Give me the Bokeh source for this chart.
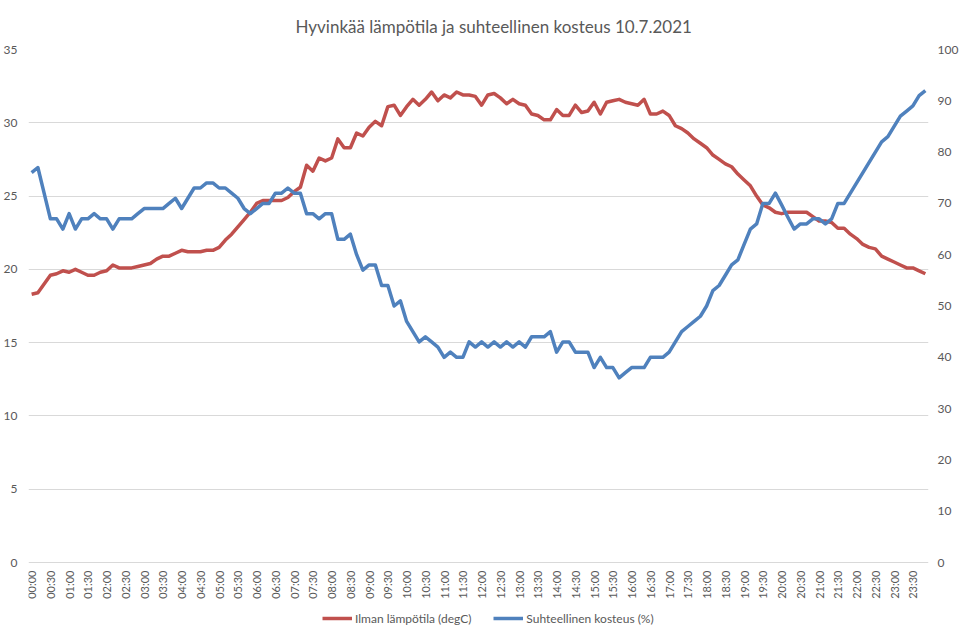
from math import pi

from bokeh.core.properties import value
from bokeh.embed import file_html
from bokeh.models import FixedTicker, Legend, LegendItem, LinearAxis, Range1d
from bokeh.plotting import figure
from bokeh.resources import INLINE

# 10 minute samples, 00:00 ... 23:50
times = [f"{h:02d}:{m:02d}" for h in range(24) for m in range(0, 60, 10)]
tick_labels = [t for t in times if t.endswith(":00") or t.endswith(":30")]

temperature = [
    18.3, 18.4, 19.0, 19.6, 19.7, 19.9, 19.8, 20.0, 19.8, 19.6, 19.6, 19.8,
    19.9, 20.3, 20.1, 20.1, 20.1, 20.2, 20.3, 20.4, 20.7, 20.9, 20.9, 21.1,
    21.3, 21.2, 21.2, 21.2, 21.3, 21.3, 21.5, 22.0, 22.4, 22.9, 23.4, 23.9,
    24.5, 24.7, 24.7, 24.7, 24.7, 24.9, 25.3, 25.6, 27.1, 26.7, 27.6, 27.4,
    27.6, 28.9, 28.3, 28.3, 29.3, 29.1, 29.7, 30.1, 29.8, 31.1, 31.2, 30.5,
    31.1, 31.6, 31.2, 31.6, 32.1, 31.5, 31.9, 31.7, 32.1, 31.9, 31.9, 31.8,
    31.2, 31.9, 32.0, 31.7, 31.3, 31.6, 31.3, 31.2, 30.6, 30.5, 30.2, 30.2,
    30.9, 30.5, 30.5, 31.2, 30.7, 30.8, 31.4, 30.6, 31.4, 31.5, 31.6, 31.4,
    31.3, 31.2, 31.6, 30.6, 30.6, 30.8, 30.5, 29.8, 29.6, 29.3, 28.9, 28.6,
    28.3, 27.8, 27.5, 27.2, 27.0, 26.5, 26.1, 25.7, 25.0, 24.4, 24.2, 23.9,
    23.8, 23.9, 23.9, 23.9, 23.9, 23.6, 23.3, 23.3, 23.2, 22.8, 22.8, 22.4,
    22.1, 21.7, 21.5, 21.4, 20.9, 20.7, 20.5, 20.3, 20.1, 20.1, 19.9, 19.7,
]

humidity = [
    76, 77, 72, 67, 67, 65, 68, 65, 67, 67, 68, 67,
    67, 65, 67, 67, 67, 68, 69, 69, 69, 69, 70, 71,
    69, 71, 73, 73, 74, 74, 73, 73, 72, 71, 69, 68,
    69, 70, 70, 72, 72, 73, 72, 72, 68, 68, 67, 68,
    68, 63, 63, 64, 60, 57, 58, 58, 54, 54, 50, 51,
    47, 45, 43, 44, 43, 42, 40, 41, 40, 40, 43, 42,
    43, 42, 43, 42, 43, 42, 43, 42, 44, 44, 44, 45,
    41, 43, 43, 41, 41, 41, 38, 40, 38, 38, 36, 37,
    38, 38, 38, 40, 40, 40, 41, 43, 45, 46, 47, 48,
    50, 53, 54, 56, 58, 59, 62, 65, 66, 70, 70, 72,
    69.7, 67.3, 65, 66, 66, 67, 67, 66, 67, 70, 70, 72,
    74, 76, 78, 80, 82, 83, 85, 87, 88, 89, 91, 92,
]

temp_ticks = [0, 5, 10, 15, 20, 25, 30, 35]
hum_ticks = [0, 10, 20, 30, 40, 50, 60, 70, 80, 90, 100]

x = list(range(len(times)))
tick_pos = [i for i, t in enumerate(times) if t in tick_labels]

GREY = "#595959"
FONT = "Lato"

# the frame reaches down to the legend: 513 px for the data, 68 px below zero
DATA_PX, BELOW_PX = 513, 68
temp_lo = -35 * BELOW_PX / DATA_PX
hum_lo = -100 * BELOW_PX / DATA_PX
label_y = -35 * 8 / DATA_PX

p = figure(width=961, height=630, x_range=Range1d(-0.5, len(times) - 0.5),
           y_range=Range1d(temp_lo, 35), x_axis_location=None,
           output_backend="svg", toolbar_location=None,
           min_border_left=23, min_border_right=32, min_border_top=49, min_border_bottom=0)
p.extra_y_ranges = {"hum": Range1d(hum_lo, 100)}
p.outline_line_color = None

p.title.text = "Hyvinkää lämpötila ja suhteellinen kosteus 10.7.2021"
p.title.align = "left"
p.title.offset = 267
p.title.text_font = FONT
p.title.text_font_size = "17px"
p.title.text_font_style = "normal"
p.title.text_color = GREY
p.title.standoff = 25

p.xgrid.grid_line_color = None
p.ygrid.grid_line_color = "#d9d9d9"
p.ygrid.ticker = FixedTicker(ticks=temp_ticks)

ya = p.yaxis[0]
ya.ticker = FixedTicker(ticks=temp_ticks)
ya.major_label_standoff = 5
right = LinearAxis(y_range_name="hum", ticker=FixedTicker(ticks=hum_ticks))
right.major_label_standoff = 3
p.add_layout(right, "right")
for ax in (ya, right):
    ax.axis_line_color = None
    ax.major_tick_line_color = None
    ax.minor_tick_line_color = None
    ax.major_label_text_font = FONT
    ax.major_label_text_font_size = "12px"
    ax.major_label_text_color = GREY

# time labels under the zero line, reading upwards
p.text(x=tick_pos, y=[label_y] * len(tick_pos), text=[times[i] for i in tick_pos],
       angle=pi / 2, text_align="right", text_baseline="middle",
       text_font=value(FONT), text_font_size="11px", text_color=GREY)

r_temp = p.line(x, temperature, line_color="#c0504d", line_width=3.5, line_join="round")
r_hum = p.line(x, humidity, y_range_name="hum", line_color="#4f81bd", line_width=3.5,
               line_join="round")

legend = Legend(items=[LegendItem(label="Ilman lämpötila (degC)", renderers=[r_temp]),
                       LegendItem(label="Suhteellinen kosteus (%)", renderers=[r_hum])],
                orientation="horizontal", location=(294, 2))
legend.border_line_color = None
legend.background_fill_alpha = 0
legend.label_text_font = FONT
legend.label_text_font_size = "12px"
legend.label_text_color = GREY
legend.glyph_width = 30
legend.label_standoff = 3
legend.spacing = 22
legend.padding = 2
legend.margin = 0
p.add_layout(legend)

open("out.html", "w").write(file_html(p, INLINE))
